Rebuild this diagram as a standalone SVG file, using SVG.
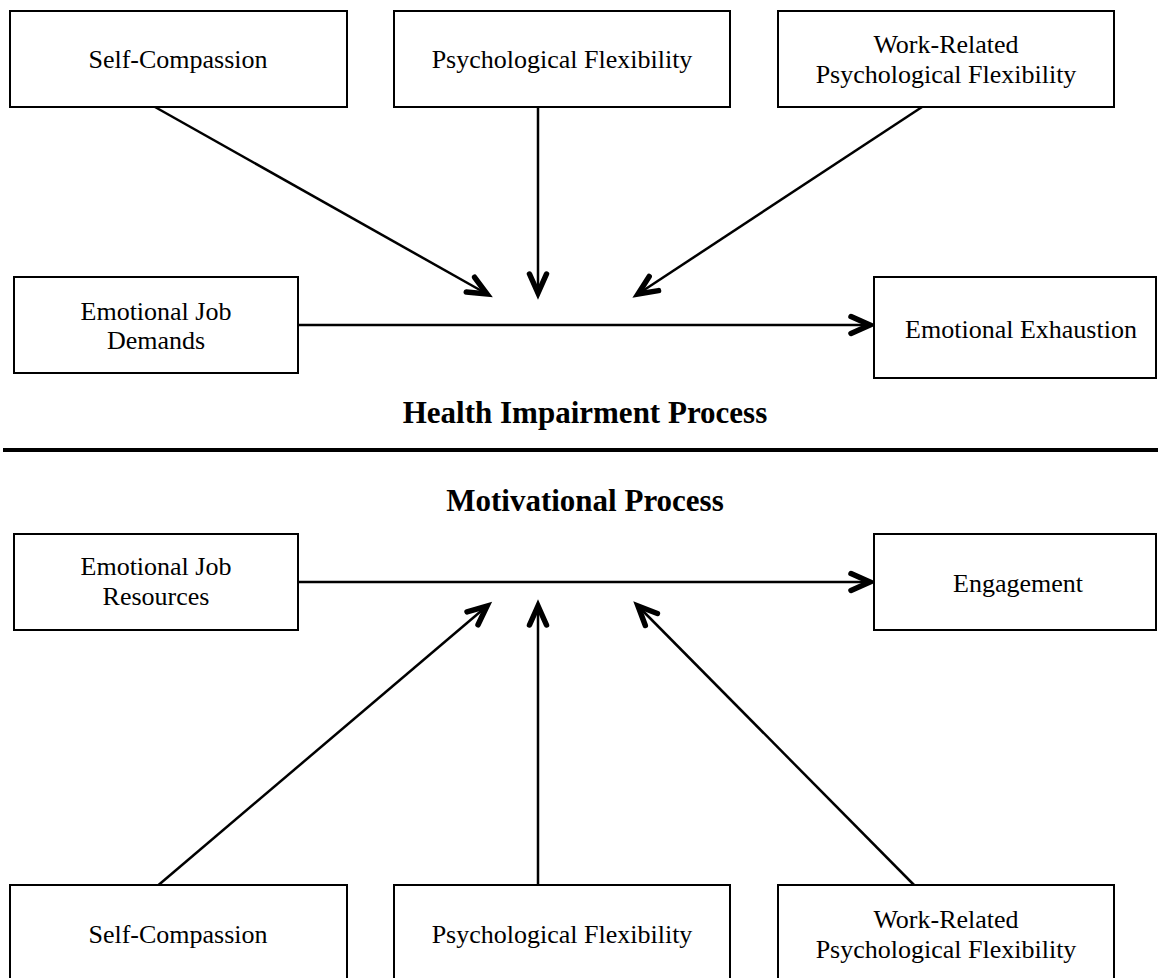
<svg xmlns="http://www.w3.org/2000/svg" width="1158" height="978" viewBox="0 0 1158 978">
<style>
.box{fill:#fff;stroke:#000;stroke-width:2}
.t{font-family:"Liberation Serif","Times New Roman",serif;font-size:26px;fill:#000;text-anchor:middle}
.h{font-family:"Liberation Serif","Times New Roman",serif;font-size:31px;font-weight:bold;fill:#000;text-anchor:middle}
.c{stroke:#000;stroke-width:2.5;fill:none}
</style>
<defs>
<marker id="ah" markerUnits="userSpaceOnUse" markerWidth="40" markerHeight="40" viewBox="-30 -20 40 40" refX="0" refY="0" orient="auto">
<path d="M-19,-8.5 L0,0 L-19,8.5" fill="none" stroke="#000" stroke-width="5.5" stroke-linecap="round" stroke-linejoin="miter"/>
</marker>
</defs>
<rect width="1158" height="978" fill="#fff"/>
<g id="connectors">
<line class="c" x1="155" y1="107" x2="487" y2="294" marker-end="url(#ah)"/>
<line class="c" x1="538" y1="107" x2="538" y2="293" marker-end="url(#ah)"/>
<line class="c" x1="922" y1="107" x2="638" y2="294" marker-end="url(#ah)"/>
<line class="c" x1="298" y1="325" x2="870" y2="325" marker-end="url(#ah)"/>
<line class="c" x1="298" y1="582" x2="870" y2="582" marker-end="url(#ah)"/>
<line class="c" x1="155" y1="888" x2="487" y2="606" marker-end="url(#ah)"/>
<line class="c" x1="538" y1="888" x2="538" y2="606" marker-end="url(#ah)"/>
<line class="c" x1="917" y1="888" x2="638" y2="606" marker-end="url(#ah)"/>
</g>
<g id="separator"><line x1="3" y1="450" x2="1158" y2="450" stroke="#000" stroke-width="4"/></g>
<g id="n-sc-top"><rect class="box" x="10" y="11" width="337" height="96"/><text class="t" x="178" y="68">Self-Compassion</text></g>
<g id="n-pf-top"><rect class="box" x="394" y="11" width="336" height="96"/><text class="t" x="562" y="68">Psychological Flexibility</text></g>
<g id="n-wr-top"><rect class="box" x="778" y="11" width="336" height="96"/><text class="t" x="946" y="53">Work-Related</text><text class="t" x="946" y="83">Psychological Flexibility</text></g>
<g id="n-ejd"><rect class="box" x="14" y="277" width="284" height="96"/><text class="t" x="156" y="320">Emotional Job</text><text class="t" x="156" y="349">Demands</text></g>
<g id="n-ee"><rect class="box" x="874" y="277" width="282" height="101"/><text class="t" x="1021" y="338">Emotional Exhaustion</text></g>
<g id="l-hip"><text class="h" x="585" y="423">Health Impairment Process</text></g>
<g id="l-mp"><text class="h" x="585" y="511">Motivational Process</text></g>
<g id="n-ejr"><rect class="box" x="14" y="534" width="284" height="96"/><text class="t" x="156" y="575">Emotional Job</text><text class="t" x="156" y="605">Resources</text></g>
<g id="n-eng"><rect class="box" x="874" y="534" width="282" height="96"/><text class="t" x="1018" y="592">Engagement</text></g>
<g id="n-sc-bot"><rect class="box" x="10" y="885" width="337" height="100"/><text class="t" x="178" y="943">Self-Compassion</text></g>
<g id="n-pf-bot"><rect class="box" x="394" y="885" width="336" height="100"/><text class="t" x="562" y="943">Psychological Flexibility</text></g>
<g id="n-wr-bot"><rect class="box" x="778" y="885" width="336" height="100"/><text class="t" x="946" y="928">Work-Related</text><text class="t" x="946" y="958">Psychological Flexibility</text></g>
</svg>
